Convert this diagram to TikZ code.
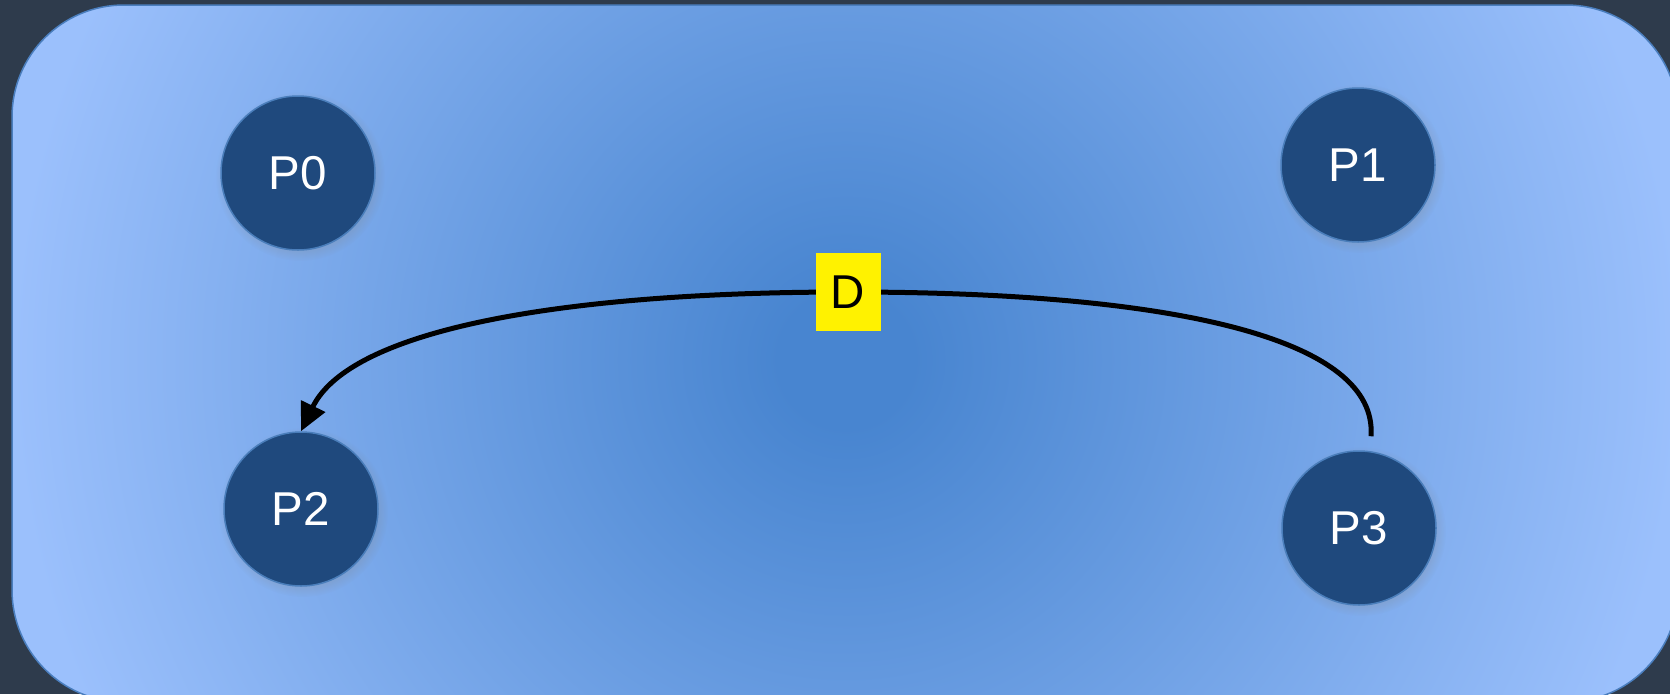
\documentclass[tikz,border=0pt]{standalone}
\usepackage{fontspec}
\setmainfont{Liberation Sans}
\usetikzlibrary{shadows,arrows.meta}
\definecolor{bgdark}{RGB}{46,59,76}
\definecolor{cin}{RGB}{72,133,208}
\definecolor{cout}{RGB}{155,192,252}
\definecolor{boxedge}{RGB}{74,126,190}
\definecolor{pfill}{RGB}{31,73,125}
\definecolor{pedge}{RGB}{74,126,187}
\pgfdeclareradialshading{bgshade}{\pgfpoint{0bp}{0bp}}{color(0bp)=(cin); color(2bp)=(cin); color(25bp)=(cout); color(50bp)=(cout)}
\tikzset{
  proc/.style={circle, fill=pfill, draw=pedge, line width=1.5pt, minimum size=154pt, inner sep=0pt,
    text=white, font=\fontsize{47.5}{57}\selectfont,
    circular drop shadow={shadow xshift=2pt, shadow yshift=-3pt, opacity=0.25}},
  lab/.style={fill=yellow, minimum width=65pt, minimum height=78pt, inner sep=0pt, text=black,
    font=\fontsize{47.5}{57}\selectfont},
  conn/.style={line width=5pt, draw=black, -{Triangle[length=28pt,width=26pt]}}
}
\begin{document}
\begin{tikzpicture}[x=1pt,y=-1pt]
\useasboundingbox (0,0) rectangle (1670,694);
\fill[bgdark] (0,0) rectangle (1670,694);
\begin{scope}
  \clip (12,5) [rounded corners=112pt] rectangle (1678,702);
  \fill[cout] (12,5) rectangle (1678,702);
  \shade[shading=bgshade] (846,360) circle (833pt);
\end{scope}
\draw[boxedge, line width=1.5pt, rounded corners=112pt] (12,5) rectangle (1678,702);
\node[proc] (P0) at (298,173) {P0};
\node[proc] (P1) at (1358,165) {P1};
\node[proc] (P2) at (301,509) {P2};
\node[proc] (P3) at (1359,528) {P3};
\coordinate (s) at ([xshift=12pt,yshift=14pt]P3.north);
\draw[conn] (s) .. controls (1378,340) and (1180,292) .. (848,292)
  node[lab] (D) {D}
  .. controls (560,292) and (350,330) .. (P2.north);
\end{tikzpicture}
\end{document}
